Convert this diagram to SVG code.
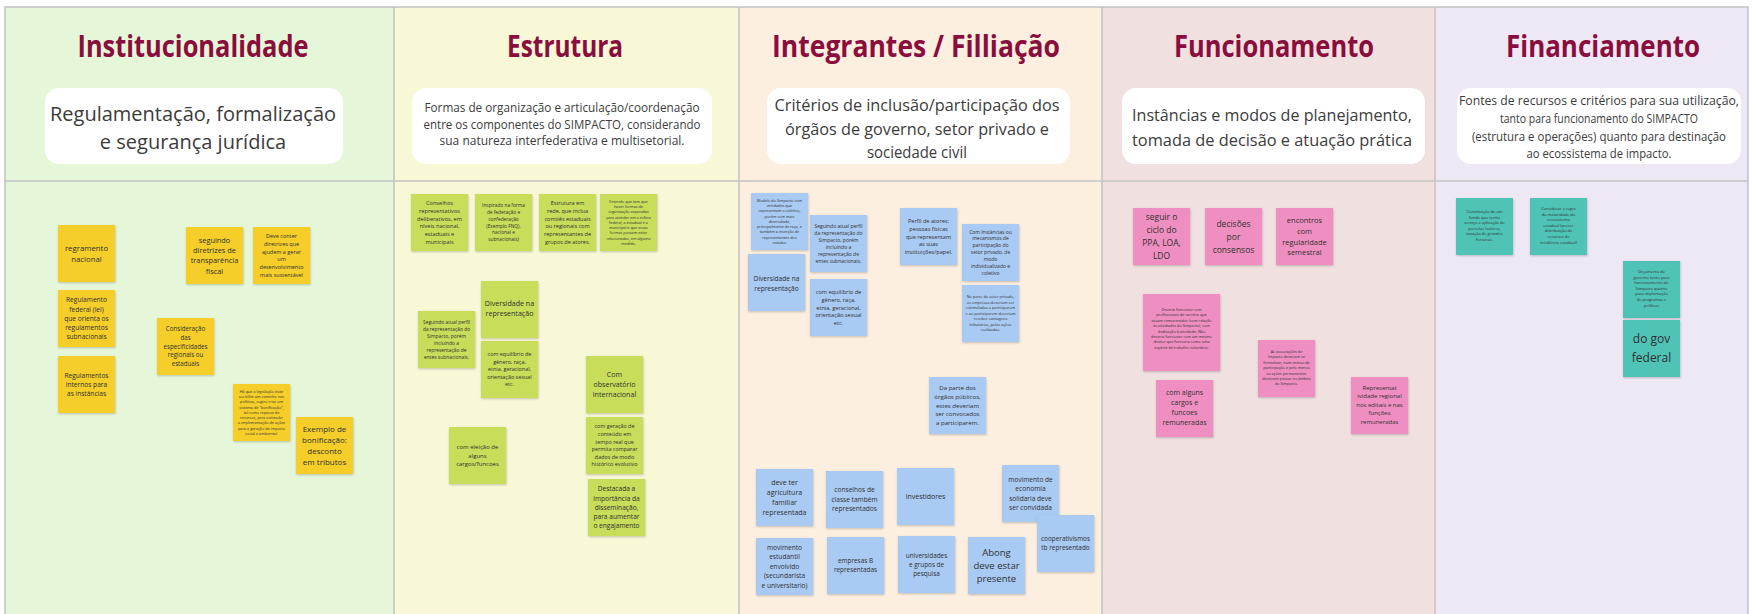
<svg xmlns="http://www.w3.org/2000/svg" width="1753" height="614" viewBox="0 0 1753 614">
<style>
.title{font-family:"Open Sans","Liberation Sans",sans-serif;font-weight:700;font-size:31px;fill:#8A0E3D;text-anchor:middle}
.sub{font-family:"Open Sans","Liberation Sans",sans-serif;fill:#3b3b3b;text-anchor:middle}
.box{fill:#ffffff}
.ln{stroke:#c2c2c2;stroke-width:1.5;fill:none}
.st{filter:url(#sh)}
.y{fill:#F5CE2C}.g{fill:#C8DD5A}.b{fill:#A8CAF3}.p{fill:#EF8FC1}.c{fill:#4FC3B6}
.t{font-family:"Open Sans","Liberation Sans",sans-serif;fill:#303030;text-anchor:middle}
</style>
<defs>
<filter id="sh" x="-10%" y="-10%" width="130%" height="130%"><feDropShadow dx="0.5" dy="1" stdDeviation="0.8" flood-color="#000" flood-opacity="0.22"/></filter>
</defs>
<rect x="0" y="0" width="1753" height="614" fill="#ffffff"/>
<g id="columns">
<rect x="5" y="7" width="389" height="607" fill="#E6F7D9"/>
<rect x="394" y="7" width="345" height="607" fill="#F8F7D6"/>
<rect x="739" y="7" width="363" height="607" fill="#FCEFDF"/>
<rect x="1102" y="7" width="333" height="607" fill="#F0E1E0"/>
<rect x="1435" y="7" width="313" height="607" fill="#EEE8F4"/>
<path class="ln" d="M5 614V7H1748V614M394 7V614M739 7V614M1102 7V614M1435 7V614M5 181H1748"/>
</g>
<g id="header-institucionalidade">
<text class="title" x="193" y="57" textLength="231" lengthAdjust="spacingAndGlyphs">Institucionalidade</text>
<rect class="box" x="45" y="88" width="298" height="76" rx="14"/>
<text class="sub" font-size="20" x="193" y="121">Regulamentação, formalização</text>
<text class="sub" font-size="20" x="193" y="149">e segurança jurídica</text>
</g>
<g id="header-estrutura">
<text class="title" x="565" y="57" textLength="116" lengthAdjust="spacingAndGlyphs">Estrutura</text>
<rect class="box" x="412" y="88" width="300" height="76" rx="14"/>
<text class="sub" font-size="11.8" x="562" y="112" textLength="275" lengthAdjust="spacingAndGlyphs">Formas de organização e articulação/coordenação</text>
<text class="sub" font-size="11.8" x="562" y="128.5" textLength="277" lengthAdjust="spacingAndGlyphs">entre os componentes do SIMPACTO, considerando</text>
<text class="sub" font-size="11.8" x="562" y="145" textLength="245" lengthAdjust="spacingAndGlyphs">sua natureza interfederativa e multisetorial.</text>
</g>
<g id="header-integrantes">
<text class="title" x="916" y="57" textLength="288" lengthAdjust="spacingAndGlyphs">Integrantes / Filliação</text>
<rect class="box" x="767" y="88" width="303" height="76" rx="14"/>
<text class="sub" font-size="16.5" x="917" y="111" textLength="285" lengthAdjust="spacingAndGlyphs">Critérios de  inclusão/participação dos</text>
<text class="sub" font-size="16.5" x="917" y="134.5" textLength="264" lengthAdjust="spacingAndGlyphs">órgãos de governo, setor privado e</text>
<text class="sub" font-size="16.5" x="917" y="158" textLength="100" lengthAdjust="spacingAndGlyphs">sociedade civil</text>
</g>
<g id="header-funcionamento">
<text class="title" x="1274" y="57" textLength="200" lengthAdjust="spacingAndGlyphs">Funcionamento</text>
<rect class="box" x="1122" y="88" width="303" height="76" rx="14"/>
<text class="sub" font-size="17" x="1272" y="121" textLength="280" lengthAdjust="spacingAndGlyphs">Instâncias e modos de planejamento,</text>
<text class="sub" font-size="17" x="1272" y="146" textLength="280" lengthAdjust="spacingAndGlyphs">tomada de decisão e atuação prática</text>
</g>
<g id="header-financiamento">
<text class="title" x="1603" y="57" textLength="194" lengthAdjust="spacingAndGlyphs">Financiamento</text>
<rect class="box" x="1457" y="88" width="284" height="76" rx="14"/>
<text class="sub" font-size="12.5" x="1599" y="105" textLength="280" lengthAdjust="spacingAndGlyphs">Fontes de recursos e critérios para sua utilização,</text>
<text class="sub" font-size="12.5" x="1599" y="122.8" textLength="198" lengthAdjust="spacingAndGlyphs">tanto para funcionamento do SIMPACTO</text>
<text class="sub" font-size="12.5" x="1599" y="140.6" textLength="254" lengthAdjust="spacingAndGlyphs">(estrutura e operações) quanto para destinação</text>
<text class="sub" font-size="12.5" x="1599" y="158.4" textLength="145" lengthAdjust="spacingAndGlyphs">ao ecossistema de impacto.</text>
</g>
<g id="connectors"></g>

<g id="y1"><rect class="st y" x="58" y="225" width="57" height="57"/><text class="t" font-size="7.8" x="86.5" y="250.9"><tspan x="86.5">regramento</tspan><tspan x="86.5" dy="10.7">nacional</tspan></text></g>
<g id="y2"><rect class="st y" x="58" y="290" width="57" height="57"/><text class="t" font-size="6.6" x="86.5" y="302.4"><tspan x="86.5">Regulamento</tspan><tspan x="86.5" dy="9.2">federal (lei)</tspan><tspan x="86.5" dy="9.2">que orienta os</tspan><tspan x="86.5" dy="9.2">regulamentos</tspan><tspan x="86.5" dy="9.2">subnacionais</tspan></text></g>
<g id="y3"><rect class="st y" x="58" y="356" width="57" height="57"/><text class="t" font-size="6.6" x="86.5" y="377.6"><tspan x="86.5">Regulamentos</tspan><tspan x="86.5" dy="9.2">internos para</tspan><tspan x="86.5" dy="9.2">as instâncias</tspan></text></g>
<g id="y4"><rect class="st y" x="186" y="227" width="57" height="57"/><text class="t" font-size="7.4" x="214.5" y="242.6"><tspan x="214.5">seguindo</tspan><tspan x="214.5" dy="10.3">diretrizes de</tspan><tspan x="214.5" dy="10.3">transparência</tspan><tspan x="214.5" dy="10.3">fiscal</tspan></text></g>
<g id="y5"><rect class="st y" x="253" y="227" width="57" height="57"/><text class="t" font-size="5.5" x="281.5" y="237.7"><tspan x="281.5">Deve conter</tspan><tspan x="281.5" dy="7.9">diretrizes que</tspan><tspan x="281.5" dy="7.9">ajudem a gerar</tspan><tspan x="281.5" dy="7.9">um</tspan><tspan x="281.5" dy="7.9">desenvolvimento</tspan><tspan x="281.5" dy="7.9">mais sustentável</tspan></text></g>
<g id="y6"><rect class="st y" x="157" y="318" width="57" height="57"/><text class="t" font-size="6.2" x="185.5" y="331.3"><tspan x="185.5">Consideração</tspan><tspan x="185.5" dy="8.7">das</tspan><tspan x="185.5" dy="8.7">especificidades</tspan><tspan x="185.5" dy="8.7">regionais ou</tspan><tspan x="185.5" dy="8.7">estaduais</tspan></text></g>
<g id="y7"><rect class="st y" x="233" y="384" width="57" height="57"/><text class="t" font-size="3.8" x="261.5" y="392.6"><tspan x="261.5">Há que a legislação trate</tspan><tspan x="261.5" dy="5.3">ou trilhe um caminho nas</tspan><tspan x="261.5" dy="5.3">políticas, sugiro criar um</tspan><tspan x="261.5" dy="5.3">sistema de "bonificação",</tspan><tspan x="261.5" dy="5.3">tal como repasse de</tspan><tspan x="261.5" dy="5.3">recursos, para estimular</tspan><tspan x="261.5" dy="5.3">a implementação de ações</tspan><tspan x="261.5" dy="5.3">para a geração de impacto</tspan><tspan x="261.5" dy="5.3">social e ambiental.</tspan></text></g>
<g id="y8"><rect class="st y" x="296" y="417" width="57" height="57"/><text class="t" font-size="8" x="324.5" y="431.8"><tspan x="324.5">Exemplo de</tspan><tspan x="324.5" dy="11">bonificação:</tspan><tspan x="324.5" dy="11">desconto</tspan><tspan x="324.5" dy="11">em tributos</tspan></text></g>

<g id="g1"><rect class="st g" x="411" y="194" width="57" height="57"/><text class="t" font-size="5.6" x="439.5" y="204.7"><tspan x="439.5">Conselhos</tspan><tspan x="439.5" dy="7.9">representativos</tspan><tspan x="439.5" dy="7.9">deliberativos, em</tspan><tspan x="439.5" dy="7.9">níveis nacional,</tspan><tspan x="439.5" dy="7.9">estaduais e</tspan><tspan x="439.5" dy="7.9">municipais</tspan></text></g>
<g id="g2"><rect class="st g" x="475" y="194" width="57" height="57"/><text class="t" font-size="4.8" x="503.5" y="207.4"><tspan x="503.5">Inspirado na forma</tspan><tspan x="503.5" dy="6.7">de federação e</tspan><tspan x="503.5" dy="6.7">confederação</tspan><tspan x="503.5" dy="6.7">(Exemplo FNQ),</tspan><tspan x="503.5" dy="6.7">nacional e</tspan><tspan x="503.5" dy="6.7">subnacionais)</tspan></text></g>
<g id="g3"><rect class="st g" x="539" y="194" width="57" height="57"/><text class="t" font-size="5.5" x="567.5" y="205.2"><tspan x="567.5">Estrutura em</tspan><tspan x="567.5" dy="7.7">rede, que inclua</tspan><tspan x="567.5" dy="7.7">comitês estaduais</tspan><tspan x="567.5" dy="7.7">ou regionais com</tspan><tspan x="567.5" dy="7.7">representantes de</tspan><tspan x="567.5" dy="7.7">grupos de atores.</tspan></text></g>
<g id="g4"><rect class="st g" x="600" y="194" width="57" height="57"/><text class="t" font-size="3.8" x="628.5" y="202.6"><tspan x="628.5">Entendo que tem que</tspan><tspan x="628.5" dy="5.3">haver formas de</tspan><tspan x="628.5" dy="5.3">organização separadas</tspan><tspan x="628.5" dy="5.3">para atender em a esfera</tspan><tspan x="628.5" dy="5.3">federal, a estadual e a</tspan><tspan x="628.5" dy="5.3">municipal e que essas</tspan><tspan x="628.5" dy="5.3">formas possam estar</tspan><tspan x="628.5" dy="5.3">relacionadas, em alguma</tspan><tspan x="628.5" dy="5.3">medida.</tspan></text></g>
<g id="g5"><rect class="st g" x="481" y="281" width="57" height="57"/><text class="t" font-size="7.1" x="509.5" y="306"><tspan x="509.5">Diversidade na</tspan><tspan x="509.5" dy="10">representação</tspan></text></g>
<g id="g6"><rect class="st g" x="481" y="341" width="57" height="57"/><text class="t" font-size="5.4" x="509.5" y="356.4"><tspan x="509.5">com equilíbrio de</tspan><tspan x="509.5" dy="7.5">gênero, raça,</tspan><tspan x="509.5" dy="7.5">etnia, geracional,</tspan><tspan x="509.5" dy="7.5">orientação sexual</tspan><tspan x="509.5" dy="7.5">etc.</tspan></text></g>
<g id="g7"><rect class="st g" x="418" y="311" width="57" height="57"/><text class="t" font-size="4.9" x="446.5" y="324"><tspan x="446.5">Seguindo atual perfil</tspan><tspan x="446.5" dy="6.9">da representação do</tspan><tspan x="446.5" dy="6.9">Simpacto, porém</tspan><tspan x="446.5" dy="6.9">incluindo a</tspan><tspan x="446.5" dy="6.9">representação de</tspan><tspan x="446.5" dy="6.9">entes subnacionais.</tspan></text></g>
<g id="g8"><rect class="st g" x="449" y="427" width="57" height="57"/><text class="t" font-size="6" x="477.5" y="449.3"><tspan x="477.5">com eleição de</tspan><tspan x="477.5" dy="8.3">alguns</tspan><tspan x="477.5" dy="8.3">cargos/funcoes</tspan></text></g>
<g id="g9"><rect class="st g" x="586" y="356" width="57" height="57"/><text class="t" font-size="7.1" x="614.5" y="377"><tspan x="614.5">Com</tspan><tspan x="614.5" dy="10">observatório</tspan><tspan x="614.5" dy="10">internacional</tspan></text></g>
<g id="g10"><rect class="st g" x="586" y="417" width="57" height="57"/><text class="t" font-size="5.4" x="614.5" y="428.4"><tspan x="614.5">com geração de</tspan><tspan x="614.5" dy="7.6">conteúdo em</tspan><tspan x="614.5" dy="7.6">tempo real que</tspan><tspan x="614.5" dy="7.6">permita comparar</tspan><tspan x="614.5" dy="7.6">dados de modo</tspan><tspan x="614.5" dy="7.6">histórico evolutivo</tspan></text></g>
<g id="g11"><rect class="st g" x="588" y="479" width="57" height="57"/><text class="t" font-size="6.6" x="616.5" y="491.4"><tspan x="616.5">Destacada a</tspan><tspan x="616.5" dy="9.2">importância da</tspan><tspan x="616.5" dy="9.2">disseminação,</tspan><tspan x="616.5" dy="9.2">para aumentar</tspan><tspan x="616.5" dy="9.2">o engajamento</tspan></text></g>

<g id="b1"><rect class="st b" x="751" y="193" width="57" height="57"/><text class="t" font-size="3.8" x="779.5" y="201.6"><tspan x="779.5">Modelo do Simpacto com</tspan><tspan x="779.5" dy="5.3">entidades que</tspan><tspan x="779.5" dy="5.3">representam o coletivo,</tspan><tspan x="779.5" dy="5.3">porém com mais</tspan><tspan x="779.5" dy="5.3">diversidade,</tspan><tspan x="779.5" dy="5.3">principalmente de raça, e</tspan><tspan x="779.5" dy="5.3">também a inserção de</tspan><tspan x="779.5" dy="5.3">representantes dos</tspan><tspan x="779.5" dy="5.3">estados</tspan></text></g>
<g id="b2"><rect class="st b" x="748" y="254" width="57" height="57"/><text class="t" font-size="6.6" x="776.5" y="281.4"><tspan x="776.5">Diversidade na</tspan><tspan x="776.5" dy="9.3">representação</tspan></text></g>
<g id="b3"><rect class="st b" x="810" y="215" width="57" height="57"/><text class="t" font-size="5" x="838.5" y="227.75"><tspan x="838.5">Seguindo atual perfil</tspan><tspan x="838.5" dy="7">da representação do</tspan><tspan x="838.5" dy="7">Simpacto, porém</tspan><tspan x="838.5" dy="7">incluindo a</tspan><tspan x="838.5" dy="7">representação de</tspan><tspan x="838.5" dy="7">entes subnacionais.</tspan></text></g>
<g id="b4"><rect class="st b" x="810" y="279" width="57" height="57"/><text class="t" font-size="5.6" x="838.5" y="293.7"><tspan x="838.5">com equilíbrio de</tspan><tspan x="838.5" dy="7.9">gênero, raça,</tspan><tspan x="838.5" dy="7.9">etnia, geracional,</tspan><tspan x="838.5" dy="7.9">orientação sexual</tspan><tspan x="838.5" dy="7.9">etc.</tspan></text></g>
<g id="b5"><rect class="st b" x="900" y="208" width="57" height="57"/><text class="t" font-size="5.6" x="928.5" y="222.7"><tspan x="928.5">Perfil de atores:</tspan><tspan x="928.5" dy="7.9">pessoas físicas</tspan><tspan x="928.5" dy="7.9">que representam</tspan><tspan x="928.5" dy="7.9">as suas</tspan><tspan x="928.5" dy="7.9">instituições/papel.</tspan></text></g>
<g id="b6"><rect class="st b" x="962" y="224" width="57" height="57"/><text class="t" font-size="5" x="990.5" y="233.55"><tspan x="990.5">Com Instâncias ou</tspan><tspan x="990.5" dy="6.9">mecanismos de</tspan><tspan x="990.5" dy="6.9">participação do</tspan><tspan x="990.5" dy="6.9">setor privado, de</tspan><tspan x="990.5" dy="6.9">modo</tspan><tspan x="990.5" dy="6.9">individualizado e</tspan><tspan x="990.5" dy="6.9">coletivo</tspan></text></g>
<g id="b7"><rect class="st b" x="962" y="285" width="57" height="57"/><text class="t" font-size="3.9" x="990.5" y="298.4"><tspan x="990.5">Na parte do setor privado,</tspan><tspan x="990.5" dy="5.5">as empresas deveriam ser</tspan><tspan x="990.5" dy="5.5">estimuladas a participarem</tspan><tspan x="990.5" dy="5.5">e ao participarem deveriam</tspan><tspan x="990.5" dy="5.5">receber vantagens</tspan><tspan x="990.5" dy="5.5">tributárias, pelas ações</tspan><tspan x="990.5" dy="5.5">realizadas.</tspan></text></g>
<g id="b8"><rect class="st b" x="929" y="377" width="57" height="57"/><text class="t" font-size="6.1" x="957.5" y="390.4"><tspan x="957.5">Da parte dos</tspan><tspan x="957.5" dy="8.6">órgãos públicos,</tspan><tspan x="957.5" dy="8.6">estes deveriam</tspan><tspan x="957.5" dy="8.6">ser convocados</tspan><tspan x="957.5" dy="8.6">a participarem.</tspan></text></g>
<g id="b9"><rect class="st b" x="756" y="469" width="57" height="57"/><text class="t" font-size="7" x="784.5" y="484.5"><tspan x="784.5">deve ter</tspan><tspan x="784.5" dy="10.3">agricultura</tspan><tspan x="784.5" dy="10.3">familiar</tspan><tspan x="784.5" dy="10.3">representada</tspan></text></g>
<g id="b10"><rect class="st b" x="826" y="471" width="57" height="57"/><text class="t" font-size="6.6" x="854.5" y="492.3"><tspan x="854.5">conselhos de</tspan><tspan x="854.5" dy="9.5">classe também</tspan><tspan x="854.5" dy="9.5">representados</tspan></text></g>
<g id="b11"><rect class="st b" x="897" y="468" width="57" height="57"/><text class="t" font-size="7" x="925.5" y="499">investidores</text></g>
<g id="b12"><rect class="st b" x="1002" y="465" width="57" height="57"/><text class="t" font-size="6.6" x="1030.5" y="481.9"><tspan x="1030.5">movimento de</tspan><tspan x="1030.5" dy="9.3">economia</tspan><tspan x="1030.5" dy="9.3">solidaria deve</tspan><tspan x="1030.5" dy="9.3">ser convidada</tspan></text></g>
<g id="b13"><rect class="st b" x="1037" y="515" width="57" height="57"/><text class="t" font-size="6.4" x="1065.5" y="541.1"><tspan x="1065.5">cooperativismos</tspan><tspan x="1065.5" dy="9.3">tb representado</tspan></text></g>
<g id="b14"><rect class="st b" x="756" y="538" width="57" height="57"/><text class="t" font-size="6.6" x="784.5" y="550"><tspan x="784.5">movimento</tspan><tspan x="784.5" dy="9.4">estudantil</tspan><tspan x="784.5" dy="9.4">envolvido</tspan><tspan x="784.5" dy="9.4">(secundarista</tspan><tspan x="784.5" dy="9.4">e universitario)</tspan></text></g>
<g id="b15"><rect class="st b" x="827" y="537" width="57" height="57"/><text class="t" font-size="6.4" x="855.5" y="563.2"><tspan x="855.5">empresas B</tspan><tspan x="855.5" dy="9">representadas</tspan></text></g>
<g id="b16"><rect class="st b" x="898" y="536" width="57" height="57"/><text class="t" font-size="6.4" x="926.5" y="557.7"><tspan x="926.5">universidades</tspan><tspan x="926.5" dy="9">e grupos de</tspan><tspan x="926.5" dy="9">pesquisa</tspan></text></g>
<g id="b17"><rect class="st b" x="968" y="537" width="57" height="57"/><text class="t" font-size="9.5" x="996.5" y="555.5"><tspan x="996.5">Abong</tspan><tspan x="996.5" dy="13.3">deve estar</tspan><tspan x="996.5" dy="13.3">presente</tspan></text></g>

<g id="p1"><rect class="st p" x="1133" y="208" width="57" height="57"/><text class="t" font-size="8.5" x="1161.5" y="220.2"><tspan x="1161.5">seguir o</tspan><tspan x="1161.5" dy="13">ciclo do</tspan><tspan x="1161.5" dy="13">PPA, LOA,</tspan><tspan x="1161.5" dy="13">LDO</tspan></text></g>
<g id="p2"><rect class="st p" x="1205" y="208" width="57" height="57"/><text class="t" font-size="8.5" x="1233.5" y="226.6"><tspan x="1233.5">decisões</tspan><tspan x="1233.5" dy="13">por</tspan><tspan x="1233.5" dy="13">consensos</tspan></text></g>
<g id="p3"><rect class="st p" x="1276" y="208" width="57" height="57"/><text class="t" font-size="7.5" x="1304.5" y="223"><tspan x="1304.5">encontros</tspan><tspan x="1304.5" dy="10.8">com</tspan><tspan x="1304.5" dy="10.8">regularidade</tspan><tspan x="1304.5" dy="10.8">semestral</tspan></text></g>
<g id="p4"><rect class="st p" x="1143" y="294" width="77" height="77"/><text class="t" font-size="3.8" x="1181.5" y="311"><tspan x="1181.5">Deveria funcionar com</tspan><tspan x="1181.5" dy="5.4">profissionais de carreira que</tspan><tspan x="1181.5" dy="5.4">atuam remunerados (com relação</tspan><tspan x="1181.5" dy="5.4">às atividades do Simpacto), com</tspan><tspan x="1181.5" dy="5.4">dedicação à atividade. Não</tspan><tspan x="1181.5" dy="5.4">deveria funcionar com um mesmo</tspan><tspan x="1181.5" dy="5.4">diretor que funciona como uma</tspan><tspan x="1181.5" dy="5.4">espécie de trabalho voluntário.</tspan></text></g>
<g id="p5"><rect class="st p" x="1156" y="380" width="57" height="57"/><text class="t" font-size="7" x="1184.5" y="395"><tspan x="1184.5">com alguns</tspan><tspan x="1184.5" dy="10">cargos e</tspan><tspan x="1184.5" dy="10">funcoes</tspan><tspan x="1184.5" dy="10">remuneradas</tspan></text></g>
<g id="p6"><rect class="st p" x="1258" y="340" width="57" height="57"/><text class="t" font-size="3.8" x="1286.5" y="353"><tspan x="1286.5">As associações de</tspan><tspan x="1286.5" dy="5.4">Impacto deveriam se</tspan><tspan x="1286.5" dy="5.4">formalizar, num mútuo de</tspan><tspan x="1286.5" dy="5.4">participação e pelo menos</tspan><tspan x="1286.5" dy="5.4">as ações permanentes</tspan><tspan x="1286.5" dy="5.4">deveriam passar no âmbito</tspan><tspan x="1286.5" dy="5.4">do Simpacto.</tspan></text></g>
<g id="p7"><rect class="st p" x="1351" y="377" width="57" height="57"/><text class="t" font-size="6" x="1379.5" y="390"><tspan x="1379.5">Representat</tspan><tspan x="1379.5" dy="8.4">ividade regional</tspan><tspan x="1379.5" dy="8.4">nos editais e nas</tspan><tspan x="1379.5" dy="8.4">funções</tspan><tspan x="1379.5" dy="8.4">remuneradas</tspan></text></g>

<g id="t1"><rect class="st c" x="1456" y="198" width="57" height="57"/><text class="t" font-size="4" x="1484.5" y="213"><tspan x="1484.5">Constituição de um</tspan><tspan x="1484.5" dy="5.6">fundo que tenha</tspan><tspan x="1484.5" dy="5.6">serviço a aplicação de</tspan><tspan x="1484.5" dy="5.6">parcelas (valores,</tspan><tspan x="1484.5" dy="5.6">taxação de grandes</tspan><tspan x="1484.5" dy="5.6">fortunas.</tspan></text></g>
<g id="t2"><rect class="st c" x="1530" y="198" width="57" height="57"/><text class="t" font-size="4" x="1558.5" y="210"><tspan x="1558.5">Considerar a regra</tspan><tspan x="1558.5" dy="5.6">da maturidade do</tspan><tspan x="1558.5" dy="5.6">ecossistema</tspan><tspan x="1558.5" dy="5.6">estadual (prever</tspan><tspan x="1558.5" dy="5.6">distribuição de</tspan><tspan x="1558.5" dy="5.6">recursos de</tspan><tspan x="1558.5" dy="5.6">incidência estadual)</tspan></text></g>
<g id="t3"><rect class="st c" x="1623" y="261" width="57" height="57"/><text class="t" font-size="4" x="1651.5" y="273"><tspan x="1651.5">Orçamento de</tspan><tspan x="1651.5" dy="5.6">governo tanto para</tspan><tspan x="1651.5" dy="5.6">funcionamento do</tspan><tspan x="1651.5" dy="5.6">Simpacto quanto</tspan><tspan x="1651.5" dy="5.6">para implantação</tspan><tspan x="1651.5" dy="5.6">de programas e</tspan><tspan x="1651.5" dy="5.6">políticas</tspan></text></g>
<g id="t4"><rect class="st c" x="1623" y="320" width="57" height="57"/><text class="t" font-size="12" x="1651.5" y="343.2"><tspan x="1651.5">do gov</tspan><tspan x="1651.5" dy="19">federal</tspan></text></g>
</svg>
